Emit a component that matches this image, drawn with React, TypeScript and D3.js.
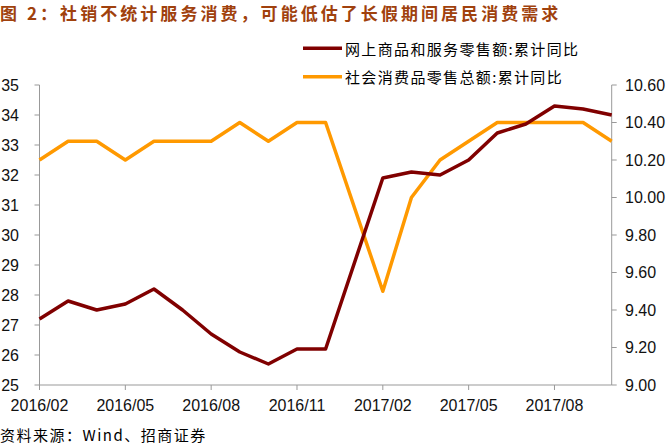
import React from "react";
import * as d3 from "d3";

const months = ["2016/02","2016/03","2016/04","2016/05","2016/06","2016/07","2016/08","2016/09","2016/10","2016/11","2016/12","2017/01","2017/02","2017/03","2017/04","2017/05","2017/06","2017/07","2017/08","2017/09","2017/10"];
const onlineRetail: (number | null)[] = [27.2,27.8,27.5,27.7,28.2,27.5,26.7,26.1,25.7,26.2,26.2,null,31.9,32.1,32.0,32.5,33.4,33.7,34.3,34.2,34.0];
const totalRetail: (number | null)[] = [10.2,10.3,10.3,10.2,10.3,10.3,10.3,10.4,10.3,10.4,10.4,null,9.5,10.0,10.2,10.3,10.4,10.4,10.4,10.4,10.3];
const leftTicks = [25,26,27,28,29,30,31,32,33,34,35];
const rightTicks = [9.0,9.2,9.4,9.6,9.8,10.0,10.2,10.4,10.6];
const xTickLabels = ["2016/02","2016/05","2016/08","2016/11","2017/02","2017/05","2017/08"];
const seriesNames = ["网上商品和服务零售额:累计同比","社会消费品零售总额:累计同比"];
const titleText = "图 2：社销不统计服务消费，可能低估了长假期间居民消费需求";
const sourceText = "资料来源：Wind、招商证券";

const W = 668, H = 447;
const X0 = 39.5, X1 = 611.7, YT = 85, YB = 385;
const BROWN = "#800000", ORANGE = "#FF9900", AXIS = "#999999";
const CJK = "'Noto Sans CJK SC', 'Liberation Sans', sans-serif";
const NUM = "'Liberation Sans', Arial, sans-serif";

export default function App() {
  const x = d3.scalePoint<string>().domain(months).range([X0, X1]);
  const yL = d3.scaleLinear().domain([25, 35]).range([YB, YT]);
  const yR = d3.scaleLinear().domain([9.0, 10.6]).range([YB, YT]);

  const mk = (vals: (number | null)[], y: d3.ScaleLinear<number, number>) => {
    const pts = months.map((m, i) => [m, vals[i]] as [string, number | null]).filter(d => d[1] != null) as [string, number][];
    return d3.line<[string, number]>().x(d => x(d[0])!).y(d => y(d[1]))(pts) || "";
  };

  return (
    <svg width={W} height={H} style={{ position: "absolute", left: 0, top: 0, background: "#fff" }}>
      <text x={0} y={20} fontFamily={CJK} fontWeight="bold" fontSize={17} letterSpacing={3.05} fill="#A0410D">{titleText}</text>

      {/* axes */}
      <line x1={X0} x2={X0} y1={YT} y2={YB} stroke={AXIS} strokeWidth={1} />
      <line x1={X1} x2={X1} y1={YT} y2={YB} stroke={AXIS} strokeWidth={1} />
      <line x1={X0} x2={X1} y1={YB} y2={YB} stroke={AXIS} strokeWidth={1} />
      {leftTicks.map(t => (
        <g key={"l" + t}>
          <line x1={X0 - 5} x2={X0} y1={yL(t)} y2={yL(t)} stroke={AXIS} />
          <text x={19} y={yL(t)} textAnchor="end" dominantBaseline="central" fontFamily={NUM} fontSize={16} fill="#111">{t}</text>
        </g>
      ))}
      {rightTicks.map(t => (
        <g key={"r" + t}>
          <line x1={X1} x2={X1 + 5} y1={yR(t)} y2={yR(t)} stroke={AXIS} />
          <text x={625} y={yR(t)} textAnchor="start" dominantBaseline="central" fontFamily={NUM} fontSize={16} fill="#111">{t.toFixed(2)}</text>
        </g>
      ))}
      {xTickLabels.map(m => (
        <g key={m}>
          <line x1={x(m)!} x2={x(m)!} y1={YB} y2={YB + 5} stroke={AXIS} />
          <text x={x(m)!} y={411} textAnchor="middle" fontFamily={NUM} fontSize={16} fill="#111">{m}</text>
        </g>
      ))}

      <path d={mk(totalRetail, yR)} fill="none" stroke={ORANGE} strokeWidth={3.5} strokeLinejoin="round" />
      <path d={mk(onlineRetail, yL)} fill="none" stroke={BROWN} strokeWidth={3.5} strokeLinejoin="round" />

      {/* legend */}
      <line x1={303} x2={342} y1={48.3} y2={48.3} stroke={BROWN} strokeWidth={3.5} />
      <text x={345} y={48.3} dominantBaseline="central" fontFamily={CJK} fontSize={15} letterSpacing={1.35} fill="#000">{seriesNames[0]}</text>
      <line x1={303} x2={342} y1={76.7} y2={76.7} stroke={ORANGE} strokeWidth={3.5} />
      <text x={345} y={76.7} dominantBaseline="central" fontFamily={CJK} fontSize={15} letterSpacing={1.35} fill="#000">{seriesNames[1]}</text>

      <text x={0} y={441} fontFamily={CJK} fontSize={15} letterSpacing={1.5} fill="#000">{sourceText}</text>
    </svg>
  );
}
